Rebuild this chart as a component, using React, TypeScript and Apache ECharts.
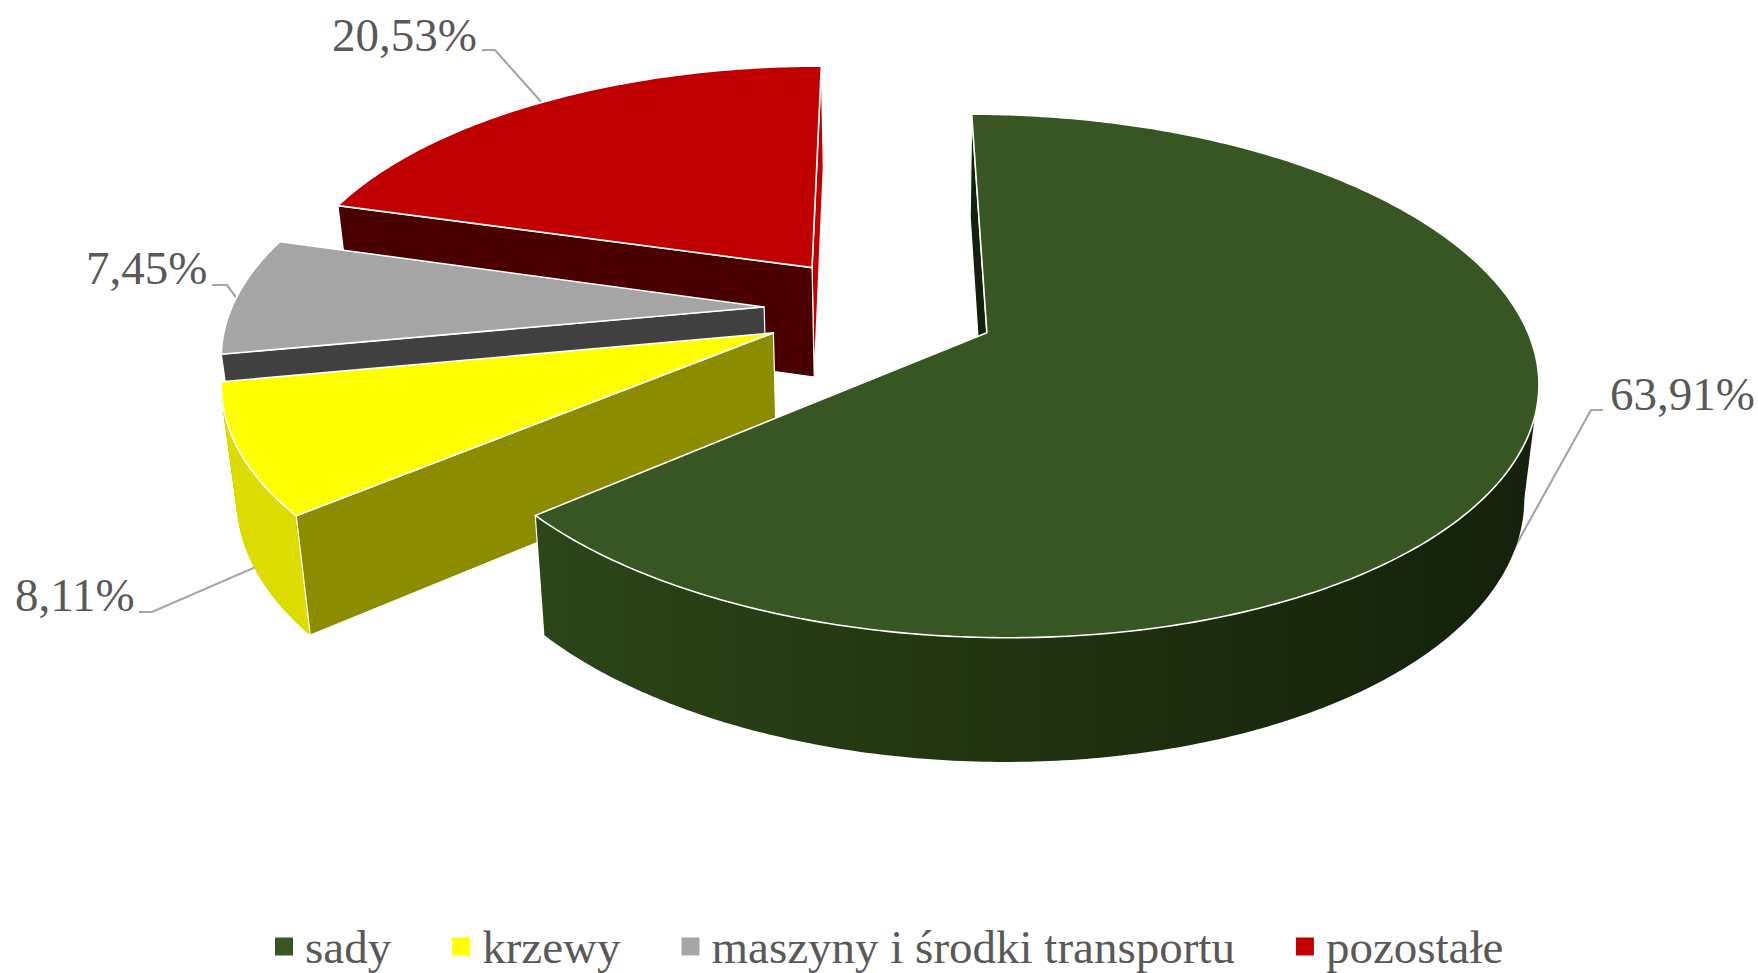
import React, { useEffect, useRef } from "react";
import * as echarts from "echarts";

const CATEGORIES = ["sady", "krzewy", "maszyny i środki transportu", "pozostałe"];
const SHARES = [63.91, 8.11, 7.45, 20.53];
const LABELS = ["63,91%", "8,11%", "7,45%", "20,53%"];
const TOP_COLORS = ["#375623", "#ffff00", "#a5a5a5", "#c00000"];
const START_WALL = ["#14200b", "#8c8c00", "#404040", "#4a0000"];
const END_WALL = [null, null, null, "#c00000"];
const GREEN_WALL_STOPS = ["#2c4519", "#20320f", "#15210c"];
const YELLOW_WALL = "#dcdc00";

// projection of the tilted pie plane
const CX = 880, CY = 309.5, AX = 533, AY = 247, PERSP = 0.163, EXPLODE = 0.218;
const VANISH_X = 905, SHRINK = 0.023, DEPTH_BASE = 98.7, DEPTH_SLOPE = 0.04;
const FONT = '47px "Liberation Serif"';

// label anchors: text left / baseline and leader line
const LABEL_LAYOUT = [
  { x: 1610, y: 411, line: [[1603, 410], [1591, 410], [1505, 565]] },
  { x: 15, y: 612, line: [[139, 612], [152, 612], [258, 566]] },
  { x: 86, y: 285, line: [[212, 285], [227, 285], [238, 300]] },
  { x: 332, y: 52, line: [[482, 50], [495, 50], [543, 104]] },
];

const total = SHARES.reduce((a, b) => a + b, 0);
const rad = (d: number) => (d * Math.PI) / 180;

function sliceAngles(i: number) {
  let a = 0;
  for (let k = 0; k < i; k++) a += (SHARES[k] / total) * 360;
  return [a, a + (SHARES[i] / total) * 360];
}

function project(i: number, r: number, deg: number) {
  const [a0, a1] = sliceAngles(i);
  const mid = rad((a0 + a1) / 2);
  const X = EXPLODE * Math.sin(mid) + r * Math.sin(rad(deg));
  const Y = EXPLODE * Math.cos(mid) + r * Math.cos(rad(deg));
  const w = 1 + PERSP * Y;
  return [CX + (AX * X) / w, CY - (AY * Y) / w];
}

function lower(p: number[]) {
  return [p[0] - (p[0] - VANISH_X) * SHRINK, p[1] + DEPTH_BASE + DEPTH_SLOPE * p[1]];
}

function arcPoints(i: number) {
  const [a0, a1] = sliceAngles(i);
  const n = Math.max(12, Math.round((a1 - a0) * 1.5));
  const pts: number[][] = [];
  for (let k = 0; k <= n; k++) pts.push(project(i, 1, a0 + ((a1 - a0) * k) / n));
  return pts;
}

function makeRenderItem(i: number) {
  return () => {
    const rim = arcPoints(i);
    const apex = project(i, 0, 0);
    const children: any[] = [];
    const poly = (points: number[][], fill: any, lineWidth = 1.2) =>
      children.push({
        type: "polygon",
        shape: { points },
        style: { fill, stroke: "#ffffff", lineWidth, lineJoin: "round" },
      });
    const solid = (points: number[][], fill: any) =>
      children.push({ type: "polygon", shape: { points }, style: { fill } });
    const low = rim.map(lower);
    if (i === 0) {
      const fill = new echarts.graphic.LinearGradient(
        540,
        0,
        1530,
        0,
        GREEN_WALL_STOPS.map((color, k) => ({ offset: k / (GREEN_WALL_STOPS.length - 1), color })),
        true
      );
      // silhouette: the tangent between the rightmost points of the two rims
      const right = (pts: number[][]) => pts.reduce((a, b) => (b[0] > a[0] ? b : a));
      const belowApex = lower(apex);
      solid([right(rim), right(low), belowApex], fill);
      solid(rim.concat(low.slice().reverse()), fill);
      const end = rim[rim.length - 1];
      children.push({
        type: "polyline",
        shape: { points: [end, lower(end)] },
        style: { fill: "none", stroke: "#ffffff", lineWidth: 1.2 },
      });
    } else if (i === 1) {
      for (let k = 0; k < rim.length - 1; k++) {
        children.push({
          type: "polygon",
          shape: { points: [rim[k], rim[k + 1], low[k + 1], low[k]] },
          style: { fill: YELLOW_WALL, stroke: YELLOW_WALL, lineWidth: 0.8 },
        });
      }
    }
    const wall = (p: number[], fill: string) => poly([apex, p, lower(p), lower(apex)], fill);
    if (END_WALL[i]) wall(rim[rim.length - 1], END_WALL[i] as string);
    if (START_WALL[i]) wall(rim[0], START_WALL[i] as string);
    poly([apex, ...rim], TOP_COLORS[i], 1.6);
    const lay = LABEL_LAYOUT[i];
    children.unshift({
      type: "polyline",
      shape: { points: lay.line },
      style: { fill: "none", stroke: "#a6a6a6", lineWidth: 2.2 },
    });
    children.push({
      type: "text",
      style: {
        x: lay.x,
        y: lay.y + 6.5,
        text: LABELS[i],
        font: FONT,
        fill: "#595959",
        align: "left",
        verticalAlign: "bottom",
      },
    });
    return { type: "group", children };
  };
}

export default function App() {
  const ref = useRef<HTMLDivElement>(null);
  useEffect(() => {
    document.body.style.margin = "0";
    document.body.style.overflow = "hidden";
    const chart = echarts.init(ref.current!, null, { renderer: "svg" });
    const order = [3, 2, 1, 0];
    chart.setOption({
      animation: false,
      backgroundColor: "#ffffff",
      legend: {
        data: CATEGORIES,
        left: 275,
        top: 923,
        orient: "horizontal",
        icon: "rect",
        itemWidth: 18,
        itemHeight: 18,
        itemGap: 61,
        padding: 0,
        textStyle: { fontFamily: "Liberation Serif", fontSize: 47, color: "#595959", padding: [0, 0, 0, 7] },
      },
      series: order.map((i) => ({
        type: "custom",
        name: CATEGORIES[i],
        coordinateSystem: "none",
        itemStyle: { color: TOP_COLORS[i] },
        renderItem: makeRenderItem(i),
        data: [[SHARES[i]]],
        silent: true,
      })),
    });
    return () => chart.dispose();
  }, []);
  return <div ref={ref} style={{ position: "absolute", left: 0, top: 0, width: 1758, height: 973 }} />;
}
